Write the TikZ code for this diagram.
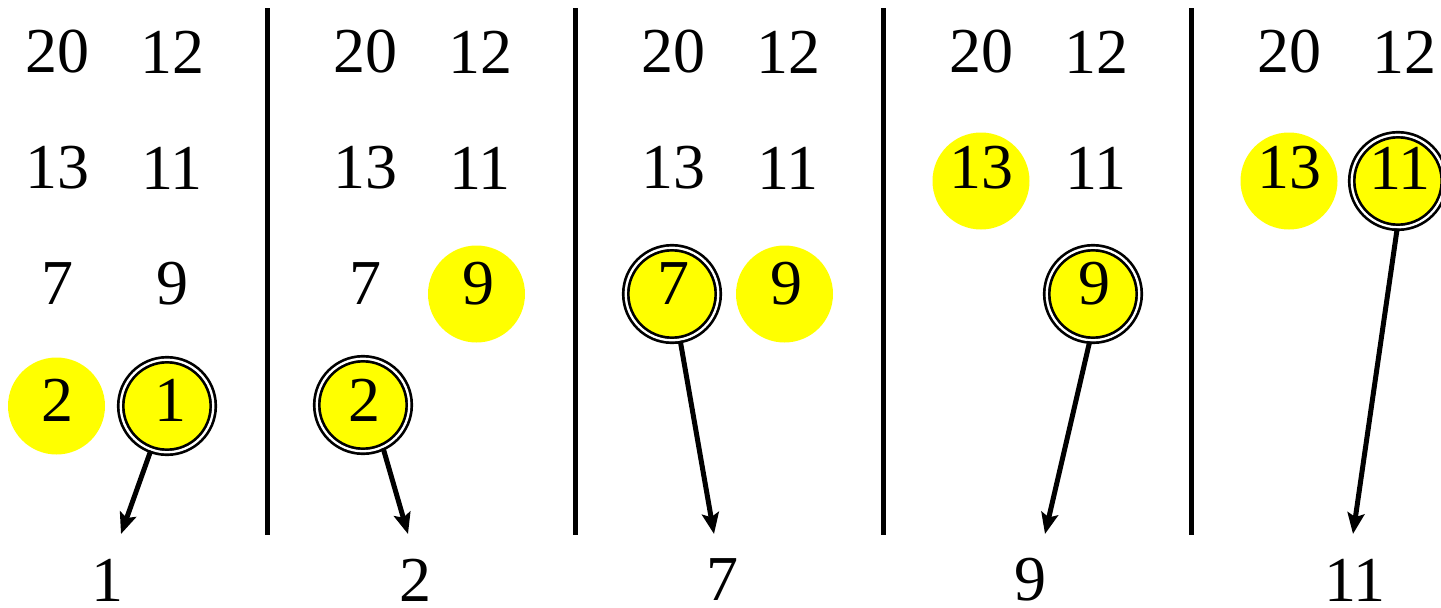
\documentclass[tikz,border=0pt]{standalone}
\usepackage{fontspec}
\setmainfont{Liberation Serif}
\usetikzlibrary{arrows.meta}
\definecolor{hy}{RGB}{255,255,0}
\begin{document}
\begin{tikzpicture}[x=1pt,y=-1pt,
  num/.style={font=\fontsize{64}{70}\selectfont, inner sep=0pt},
  hl/.style={circle, fill=hy, minimum size=97pt, inner sep=0pt},
  pick/.style={circle, fill=hy, draw=black, line width=2.7pt, double=white, double distance=2.3pt, minimum size=92.5pt, inner sep=0pt},
  arr/.style={line width=5pt, -{Stealth[length=21pt,width=17pt,inset=4pt]}},
  divider/.style={line width=5pt}]
\useasboundingbox (0,0) rectangle (1441,608);
% dividers
\foreach \i/\x in {1/267,2/575,3/883,4/1191}{
  \coordinate (d\i t) at (\x,8);
  \coordinate (d\i b) at (\x,535);
  \draw[divider] (d\i t) -- (d\i b);
}
% highlight circles
\node[hl] (h1) at (56.5,406) {};
\node[pick] (c1) at (167,406) {};
\node[hl] (h2) at (476.5,294) {};
\node[pick] (c2) at (363,405) {};
\node[hl] (h3) at (784.5,294) {};
\node[pick] (c3) at (672,294) {};
\node[hl] (h4) at (981,181) {};
\node[pick] (c4) at (1093,294) {};
\node[hl] (h5) at (1289,181) {};
\node[pick] (c5) at (1398,181) {};
% numbers
% panel 1
\node[num] (p1a) at (57,52) {20};   \node[num] (p1b) at (172,52) {12};
\node[num] (p1c) at (57,168) {13};  \node[num] (p1d) at (172,168) {11};
\node[num] (p1e) at (57,284) {7};   \node[num] (p1f) at (172,284) {9};
\node[num] (p1g) at (57,400) {2};   \node[num] (p1h) at (170,400) {1};
% panel 2
\node[num] (p2a) at (365,52) {20};  \node[num] (p2b) at (480,52) {12};
\node[num] (p2c) at (365,168) {13}; \node[num] (p2d) at (480,168) {11};
\node[num] (p2e) at (365,284) {7};  \node[num] (p2f) at (478,284) {9};
\node[num] (p2g) at (364,400) {2};
% panel 3
\node[num] (p3a) at (673,52) {20};  \node[num] (p3b) at (788,52) {12};
\node[num] (p3c) at (673,168) {13}; \node[num] (p3d) at (788,168) {11};
\node[num] (p3e) at (673,284) {7};  \node[num] (p3f) at (786,284) {9};
% panel 4
\node[num] (p4a) at (981,52) {20};  \node[num] (p4b) at (1096,52) {12};
\node[num] (p4c) at (981,168) {13}; \node[num] (p4d) at (1096,168) {11};
\node[num] (p4f) at (1094,284) {9};
% panel 5
\node[num] (p5a) at (1289,52) {20}; \node[num] (p5b) at (1404,52) {12};
\node[num] (p5c) at (1289,168) {13}; \node[num] (p5d) at (1400,168) {11};
% output labels
\node[num] (o1) at (107,580) {1};
\node[num] (o2) at (415,580) {2};
\node[num] (o3) at (722,580) {7};
\node[num] (o4) at (1030,580) {9};
\node[num] (o5) at (1355,580) {11};
% arrow ends
\coordinate (e1) at (121,534);
\coordinate (e2) at (408,534);
\coordinate (e3) at (714,534);
\coordinate (e4) at (1045,534);
\coordinate (e5) at (1353,534);
\draw[arr] (c1.-110) -- (e1);
\draw[arr] (c2.-65) -- (e2);
\draw[arr] (c3.-80) -- (e3);
\draw[arr] (c4.-94) -- (e4);
\draw[arr] (c5.-91) -- (e5);
\end{tikzpicture}
\end{document}
